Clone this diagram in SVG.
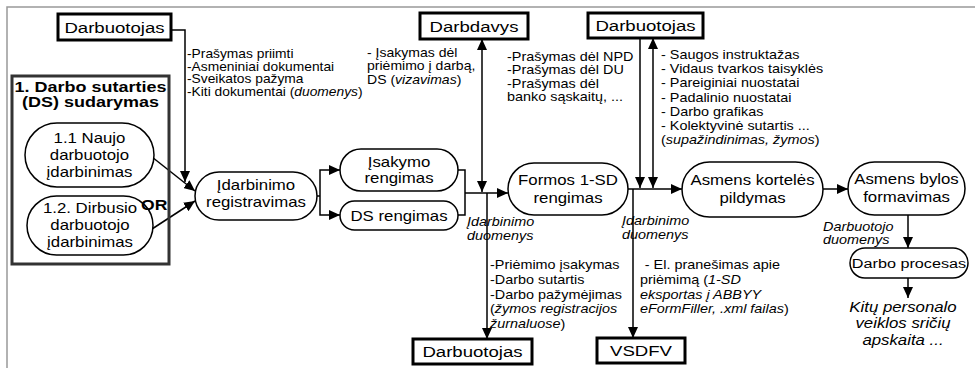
<svg xmlns="http://www.w3.org/2000/svg" width="975" height="368" viewBox="0 0 975 368">
<defs>
<marker id="ah" markerUnits="userSpaceOnUse" markerWidth="11" markerHeight="10" refX="11" refY="5" orient="auto-start-reverse" viewBox="0 0 11 10">
<path d="M0,0 L11,5 L0,10 z" fill="#000"/>
</marker>
<style>
text{font-family:"Liberation Sans",Arial,Helvetica,sans-serif;fill:#000}
.box{fill:#fff;stroke:#000;stroke-width:3}
.node{fill:#fff;stroke:#000;stroke-width:1.5}
.frame{fill:none;stroke:#333;stroke-width:3}
.ln{fill:none;stroke:#000;stroke-width:1.5}
.arr{marker-end:url(#ah)}
.arr2{marker-start:url(#ah);marker-end:url(#ah)}
.tb{font-size:15.5px;text-anchor:middle}
.tn{font-size:14px;text-anchor:middle}
.ts{font-size:12px}
.i{font-style:italic}
.bold{font-weight:bold}
</style>
</defs>
<rect width="975" height="368" fill="#fff"/>
<path d="M7,368 V7 H975" fill="none" stroke="#999" stroke-width="1.5"/>

<g id="connectors">
<path class="ln arr" d="M171,30 H185 V182"/>
<path class="ln arr" d="M152,157 L195,191"/>
<path class="ln arr" d="M152,229 L195,201"/>
<path class="ln" d="M317,196 H320"/>
<path class="ln arr" d="M320,196 V170 H340"/>
<path class="ln arr" d="M320,196 V215 H340"/>
<path class="ln" d="M458,170 H465 V215 H458"/>
<path class="ln arr" d="M465,193 H508"/>
<path class="ln arr2" d="M482,39 V192"/>
<path class="ln arr" d="M487,193 V339"/>
<path class="ln arr" d="M628,189 H682"/>
<path class="ln arr" d="M640,38 V188"/>
<path class="ln arr2" d="M653,38 V188"/>
<path class="ln arr" d="M633,189 V338"/>
<path class="ln arr" d="M823,189 H848"/>
<path class="ln arr" d="M908,215 V248"/>
<path class="ln arr" d="M908,278 V298"/>
</g>

<g id="frame-ds">
<rect class="frame" x="12" y="76" width="157" height="188"/>
<text class="tb bold" style="font-size:14.5px" transform="translate(90.5,92) scale(1.24,1)"><tspan x="0">1. Darbo sutarties</tspan><tspan x="0" dy="15.5">(DS) sudarymas</tspan></text>
</g>

<g id="n-naujo">
<rect class="node" x="25" y="123" width="129" height="64" rx="32"/>
<text class="tn" transform="translate(89.5,143) scale(1.2,1)"><tspan x="0">1.1 Naujo</tspan><tspan x="0" dy="17">darbuotojo</tspan><tspan x="0" dy="17">įdarbinimas</tspan></text>
</g>

<g id="n-dirbusio">
<rect class="node" x="27" y="196" width="126" height="59" rx="29.5"/>
<text class="tn" transform="translate(90,213) scale(1.2,1)"><tspan x="0">1.2. Dirbusio</tspan><tspan x="0" dy="17">darbuotojo</tspan><tspan x="0" dy="17">įdarbinimas</tspan></text>
</g>

<g id="or-label">
<text class="bold" style="font-size:15px" transform="translate(141,210) scale(1.17,1)">OR</text>
</g>

<g id="b-darbuotojas1">
<rect class="box" x="58" y="14" width="113" height="26"/>
<text class="tb" transform="translate(114.5,32.5) scale(1.2,1)">Darbuotojas</text>
</g>

<g id="b-darbdavys">
<rect class="box" x="420" y="13" width="108" height="26"/>
<text class="tb" transform="translate(474,31.5) scale(1.2,1)">Darbdavys</text>
</g>

<g id="b-darbuotojas2">
<rect class="box" x="588" y="13" width="115" height="25"/>
<text class="tb" transform="translate(645.5,31) scale(1.2,1)">Darbuotojas</text>
</g>

<g id="b-darbuotojas3">
<rect class="box" x="413" y="339" width="119" height="25"/>
<text class="tb" transform="translate(472.5,357) scale(1.2,1)">Darbuotojas</text>
</g>

<g id="b-vsdfv">
<rect class="box" x="597" y="338" width="88" height="25"/>
<text class="tb" transform="translate(641,356) scale(1.2,1)">VSDFV</text>
</g>

<g id="n-registravimas">
<rect class="node" x="195" y="172" width="122" height="48" rx="24"/>
<text class="tn" transform="translate(256,190) scale(1.2,1)"><tspan x="0">Įdarbinimo</tspan><tspan x="0" dy="17">registravimas</tspan></text>
</g>

<g id="n-isakymo">
<rect class="node" x="340" y="149" width="118" height="42" rx="21"/>
<text class="tn" transform="translate(399,167) scale(1.2,1)"><tspan x="0">Įsakymo</tspan><tspan x="0" dy="16">rengimas</tspan></text>
</g>

<g id="n-ds">
<rect class="node" x="340" y="201" width="118" height="29" rx="14.5"/>
<text class="tn" transform="translate(399,220.5) scale(1.2,1)">DS rengimas</text>
</g>

<g id="n-formos">
<rect class="node" x="508" y="163" width="120" height="52" rx="26"/>
<text class="tn" transform="translate(568,185) scale(1.2,1)"><tspan x="0">Formos 1-SD</tspan><tspan x="0" dy="18">rengimas</tspan></text>
</g>

<g id="n-korteles">
<rect class="node" x="682" y="162" width="141" height="55" rx="27.5"/>
<text class="tn" transform="translate(752.5,185) scale(1.2,1)"><tspan x="0">Asmens kortelės</tspan><tspan x="0" dy="18">pildymas</tspan></text>
</g>

<g id="n-bylos">
<rect class="node" x="848" y="162" width="117" height="53" rx="26.5"/>
<text class="tn" transform="translate(906.5,184) scale(1.2,1)"><tspan x="0">Asmens bylos</tspan><tspan x="0" dy="18">formavimas</tspan></text>
</g>

<g id="n-procesas">
<rect class="node" x="850" y="248" width="118" height="30" rx="15"/>
<text class="tn" style="font-size:13.5px" transform="translate(909,268) scale(1.2,1)">Darbo procesas</text>
</g>

<g id="labels">
<text class="ts" transform="translate(187,58) scale(1.15,1)"><tspan x="0">-Prašymas priimti</tspan><tspan x="0" dy="12.7">-Asmeniniai dokumentai</tspan><tspan x="0" dy="12.7">-Sveikatos pažyma</tspan><tspan x="0" dy="12.7">-Kiti dokumentai (<tspan class="i">duomenys</tspan>)</tspan></text>
<text class="ts" transform="translate(367,57) scale(1.17,1)"><tspan x="0">- Įsakymas dėl</tspan><tspan x="0" dy="13.3">priėmimo į darbą,</tspan><tspan x="0" dy="13.3">DS (<tspan class="i">vizavimas</tspan>)</tspan></text>
<text class="ts" transform="translate(507,61) scale(1.2,1)"><tspan x="0">-Prašymas dėl NPD</tspan><tspan x="0" dy="13.3">-Prašymas dėl DU</tspan><tspan x="0" dy="13.3">-Prašymas dėl</tspan><tspan x="0" dy="13.3">banko sąskaitų, ...</tspan></text>
<text class="ts" transform="translate(661,59) scale(1.2,1)"><tspan x="0">- Saugos instruktažas</tspan><tspan x="0" dy="14.2">- Vidaus tvarkos taisyklės</tspan><tspan x="0" dy="14.2">- Pareiginiai nuostatai</tspan><tspan x="0" dy="14.2">- Padalinio nuostatai</tspan><tspan x="0" dy="14.2">- Darbo grafikas</tspan><tspan x="0" dy="14.2">- Kolektyvinė sutartis ...</tspan><tspan x="0" dy="14.2">(<tspan class="i">supažindinimas, žymos</tspan>)</tspan></text>
<text class="ts i" transform="translate(467,226) scale(1.2,1)"><tspan x="0">Įdarbinimo</tspan><tspan x="0" dy="14">duomenys</tspan></text>
<text class="ts i" transform="translate(622,225) scale(1.2,1)"><tspan x="0">Įdarbinimo</tspan><tspan x="0" dy="14">duomenys</tspan></text>
<text class="ts" transform="translate(490,269) scale(1.2,1)"><tspan x="0">-Priėmimo įsakymas</tspan><tspan x="0" dy="14.8">-Darbo sutartis</tspan><tspan x="0" dy="14.8">-Darbo pažymėjimas</tspan><tspan x="0" dy="14.8">(<tspan class="i">žymos registracijos</tspan></tspan><tspan x="0" dy="14.8"><tspan class="i">žurnaluose</tspan>)</tspan></text>
<text class="ts" transform="translate(640,269) scale(1.2,1)"><tspan x="4">- El. pranešimas apie</tspan><tspan x="0" dy="14.8">priėmimą (<tspan class="i">1-SD</tspan></tspan><tspan x="0" dy="14.8" class="i">eksportas į ABBYY</tspan><tspan x="0" dy="14.8"><tspan class="i">eFormFiller, .xml failas</tspan>)</tspan></text>
<text class="ts i" transform="translate(823,231) scale(1.2,1)"><tspan x="0">Darbuotojo</tspan><tspan x="0" dy="13">duomenys</tspan></text>
<text class="tn i" transform="translate(903,312) scale(1.2,1)"><tspan x="0">Kitų personalo</tspan><tspan x="0" dy="16.5">veiklos sričių</tspan><tspan x="0" dy="16.5">apskaita ...</tspan></text>
</g>
</svg>
